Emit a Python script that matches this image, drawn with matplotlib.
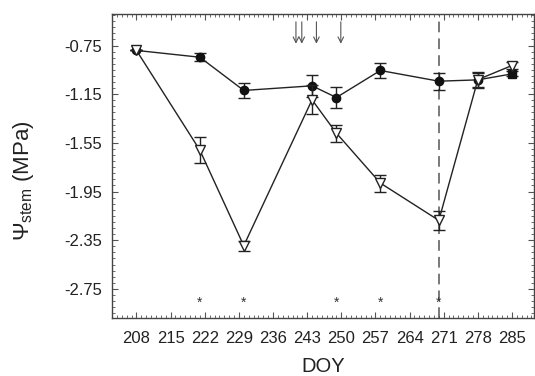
import matplotlib
matplotlib.use("Agg")
import matplotlib.pyplot as plt
from matplotlib.ticker import MultipleLocator

plt.rcParams["font.family"] = ["Liberation Sans", "DejaVu Sans"]
plt.rcParams["mathtext.fontset"] = "custom"
plt.rcParams["mathtext.rm"] = "Liberation Sans"
plt.rcParams["mathtext.it"] = "Liberation Sans"

# day of year for each sampling date
doy = [208, 221, 230, 244, 249, 258, 270, 278, 285]

# irrigated (filled) and water-stressed (open) stem water potential, MPa
control = [-0.79, -0.846, -1.119, -1.081, -1.177, -0.955, -1.043, -1.032, -0.983]
control_err = [0.0, 0.035, 0.065, 0.09, 0.085, 0.063, 0.07, 0.057, 0.02]
stress = [-0.79, -1.61, -2.395, -1.196, -1.47, -1.88, -2.187, -1.03, -0.914]
stress_err = [0.0, 0.105, 0.04, 0.12, 0.07, 0.07, 0.08, 0.065, 0.03]

# significant-difference dates and event arrows
star_doy = [221, 230, 249, 258, 270]
arrow_doy = [240.7, 241.9, 244.9, 249.9]
rewater_doy = 270

xticks = [208, 215, 222, 229, 236, 243, 250, 257, 264, 271, 278, 285]
yticks = [-0.75, -1.15, -1.55, -1.95, -2.35, -2.75]

fig = plt.figure(figsize=(5.35, 3.76), dpi=100)
ax = fig.add_axes([0.2086, 0.154, 0.7894, 0.809])

ax.errorbar(doy[:-1], control[:-1], yerr=control_err[:-1], color="#222222",
            marker="o", ms=6, mfc="#111111", mec="#111111", lw=1.0,
            capsize=4, elinewidth=1.0, capthick=1.0, zorder=3)
ax.plot(doy[-2:], control[-2:], color="#222222", lw=1.0, zorder=3)
ax.errorbar(doy[-1:], control[-1:], yerr=control_err[-1:], color="#222222",
            marker="s", ms=6, mfc="#111111", mec="#111111", ls="none",
            capsize=4, elinewidth=1.0, capthick=1.0, zorder=3)
ax.errorbar(doy, stress, yerr=stress_err, color="#222222",
            marker="v", ms=7, mfc="white", mec="#222222", mew=1.0, lw=1.0,
            capsize=4, elinewidth=1.0, capthick=1.0, zorder=4)

ax.axvline(rewater_doy, color="#555555", lw=1.1, dashes=(7, 4), zorder=2)

for d in star_doy:
    ax.text(d, -2.865, "*", ha="center", va="center", fontsize=10, color="#333333")

for d in arrow_doy:
    ax.annotate("", xy=(d, -0.735), xytext=(d, -0.555),
                arrowprops=dict(arrowstyle="->", color="#555555", lw=0.8,
                                shrinkA=0, shrinkB=0))

ax.set_xlim(202.9, 289.5)
ax.set_ylim(-2.99, -0.49)
ax.set_xticks(xticks)
ax.set_yticks(yticks)
ax.set_yticklabels([f"{v:.2f}" for v in yticks])
ax.xaxis.set_minor_locator(MultipleLocator(1))
ax.yaxis.set_minor_locator(MultipleLocator(0.05))
ax.tick_params(which="both", direction="in", top=True, right=True,
               colors="#555555", labelcolor="#222222", labelsize=12)
ax.tick_params(which="major", length=4, width=0.8)
ax.tick_params(axis="x", which="major", pad=9)
ax.tick_params(axis="y", which="major", pad=7)
ax.tick_params(which="minor", length=2, width=0.6)
for s in ax.spines.values():
    s.set_color("#444444")
    s.set_linewidth(1.0)

ax.set_xlabel("DOY", fontsize=14.5, color="#222222")
ax.xaxis.set_label_coords(0.5, -0.128)
ax.set_ylabel(r"$\Psi_{\mathrm{stem}}$ (MPa)", fontsize=16, color="#222222")
ax.yaxis.set_label_coords(-0.18, 0.45)

fig.savefig("out.png", dpi=100)
